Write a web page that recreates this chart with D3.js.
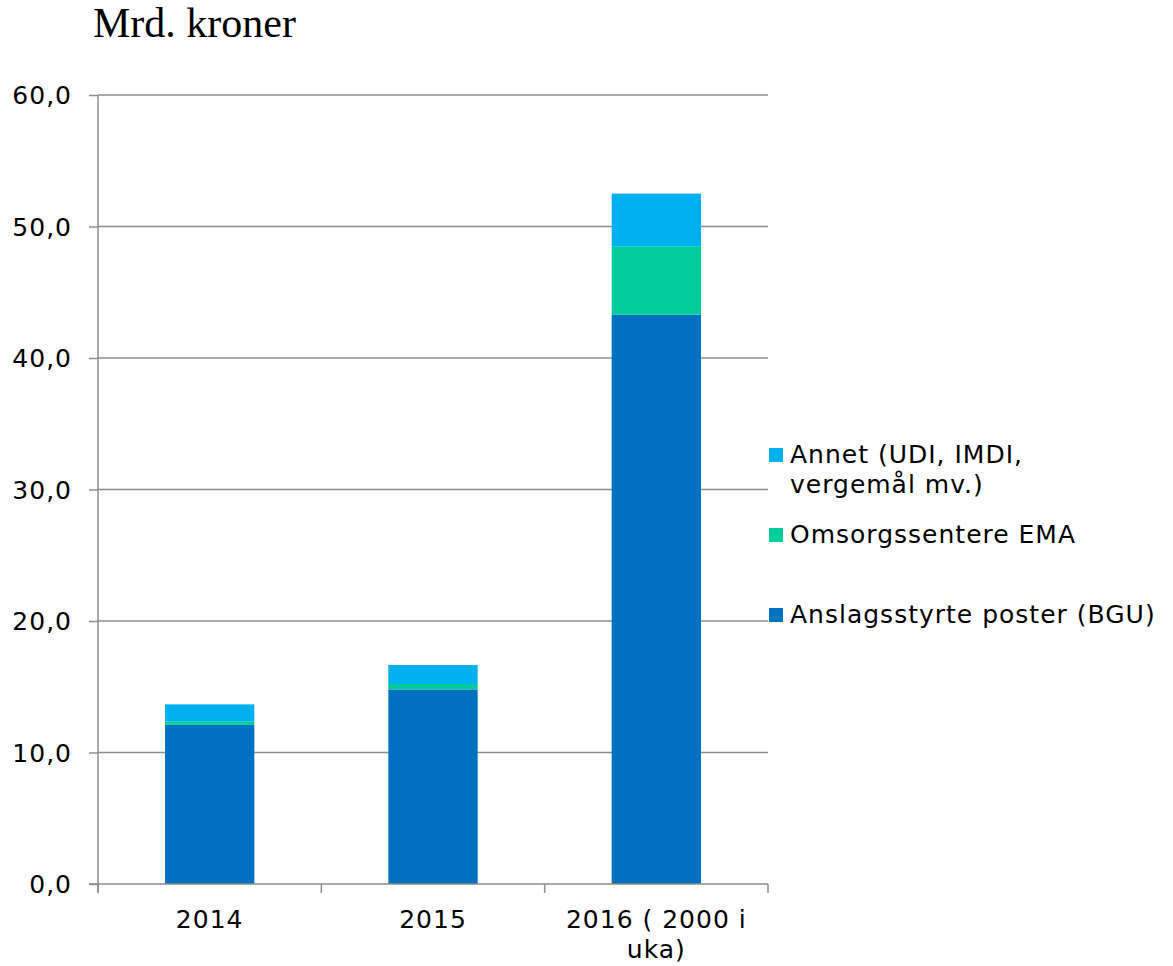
<!DOCTYPE html>
<html>
<head>
<meta charset="utf-8">
<script src="https://cdn.jsdelivr.net/npm/d3@7"></script>
<style>
  body { margin: 0; background: #fff; }
  .tick-label { font-family: "DejaVu Sans", Verdana, sans-serif; font-size: 25px; letter-spacing: 1px; fill: #000; }
</style>
</head>
<body>
<div id="chart"></div>
<script>
const years = ["2014", "2015", "2016 ( 2000 i uka)"];
const yearLines = [["2014"], ["2015"], ["2016 ( 2000 i", "uka)"]];
const seriesNames = ["Anslagsstyrte poster (BGU)", "Omsorgssentere EMA", "Annet (UDI, IMDI, vergemål mv.)"];
const bguValues = [12.1, 14.8, 43.3];
const emaValues = [0.26, 0.41, 5.2];
const annetValues = [1.3, 1.45, 4.0];
const yTicks = [0, 10, 20, 30, 40, 50, 60];
const colors = ["#0070C0", "#00CC99", "#00B0F0"];

const width = 1173;
const height = 966;
const margin = { top: 95, right: 405, bottom: 82, left: 98 };

const rows = years.map((y, i) => ({ year: y, bgu: bguValues[i], ema: emaValues[i], annet: annetValues[i] }));
const keys = ["bgu", "ema", "annet"];
const stacked = d3.stack().keys(keys)(rows);

const svg = d3.select("#chart").append("svg").attr("width", width).attr("height", height);

const xScale = d3.scaleBand().domain(years).range([margin.left, width - margin.right]).padding(0);
const yScale = d3.scaleLinear().domain([0, 60]).range([height - margin.bottom, margin.top]);

const gridColor = "#8c8c8c";

// gridlines
svg.append("g").selectAll("line").data(yTicks.filter(d => d > 0)).enter().append("line")
    .attr("x1", margin.left).attr("x2", width - margin.right)
    .attr("y1", d => yScale(d)).attr("y2", d => yScale(d))
    .attr("stroke", gridColor).attr("stroke-width", 1.5);

// bars
const barW = xScale.bandwidth() * 0.4;
svg.append("g").selectAll("g").data(stacked).enter().append("g")
    .attr("fill", (d, i) => colors[i])
    .selectAll("rect").data(d => d).enter().append("rect")
    .attr("x", d => xScale(d.data.year) + (xScale.bandwidth() - barW) / 2)
    .attr("y", d => yScale(d[1]))
    .attr("width", barW)
    .attr("height", d => yScale(d[0]) - yScale(d[1]));

// y axis
const yAxis = d3.axisLeft(yScale).tickValues(yTicks).tickSize(9).tickFormat(d => d3.format(".1f")(d).replace(".", ","));
const yg = svg.append("g").attr("transform", `translate(${margin.left},0)`).call(yAxis);
yg.select(".domain").remove();
yg.append("line").attr("x1", 0).attr("x2", 0).attr("y1", yScale(60)).attr("y2", yScale(0) + 9)
    .attr("stroke", gridColor).attr("stroke-width", 1.5);
yg.selectAll(".tick line").attr("stroke", gridColor).attr("stroke-width", 1.5);
yg.selectAll(".tick text").attr("class", "tick-label").attr("x", -26).attr("dy", "0.35em");
yg.attr("font-size", null).attr("font-family", null);

// x axis
const xg = svg.append("g");
xg.append("line").attr("x1", margin.left - 9).attr("x2", width - margin.right)
    .attr("y1", yScale(0)).attr("y2", yScale(0)).attr("stroke", gridColor).attr("stroke-width", 1.5);
const bounds = years.map(y => xScale(y)).concat([xScale.range()[1]]);
xg.selectAll(".xtick").data(bounds).enter().append("line")
    .attr("x1", d => d).attr("x2", d => d)
    .attr("y1", yScale(0)).attr("y2", yScale(0) + 9)
    .attr("stroke", gridColor).attr("stroke-width", 1.5);
xg.selectAll(".xlabel").data(years).enter().append("text")
    .attr("class", "tick-label")
    .attr("text-anchor", "middle")
    .attr("x", d => xScale(d) + xScale.bandwidth() / 2)
    .attr("y", 928)
    .each(function(d, i) {
        const t = d3.select(this);
        yearLines[i].forEach((line, j) => {
            t.append("tspan").attr("x", xScale(d) + xScale.bandwidth() / 2).attr("dy", j === 0 ? 0 : 30).text(line);
        });
    });

// title
svg.append("text").attr("x", 93).attr("y", 37)
    .style("font-family", "'Liberation Serif', 'Times New Roman', serif").style("font-size", "42px")
    .text("Mrd. kroner");

// legend
const legendItems = [
    { color: colors[2], lines: ["Annet (UDI, IMDI,", "vergemål mv.)"], y: 463 },
    { color: colors[1], lines: ["Omsorgssentere EMA"], y: 543 },
    { color: colors[0], lines: ["Anslagsstyrte poster (BGU)"], y: 623 }
];
const lg = svg.append("g");
legendItems.forEach(item => {
    lg.append("rect").attr("x", 769).attr("y", item.y - 15).attr("width", 14).attr("height", 14).attr("fill", item.color);
    const t = lg.append("text").attr("class", "tick-label").attr("x", 790).attr("y", item.y);
    item.lines.forEach((line, j) => {
        t.append("tspan").attr("x", 790).attr("dy", j === 0 ? 0 : 30).text(line);
    });
});
</script>
</body>
</html>
